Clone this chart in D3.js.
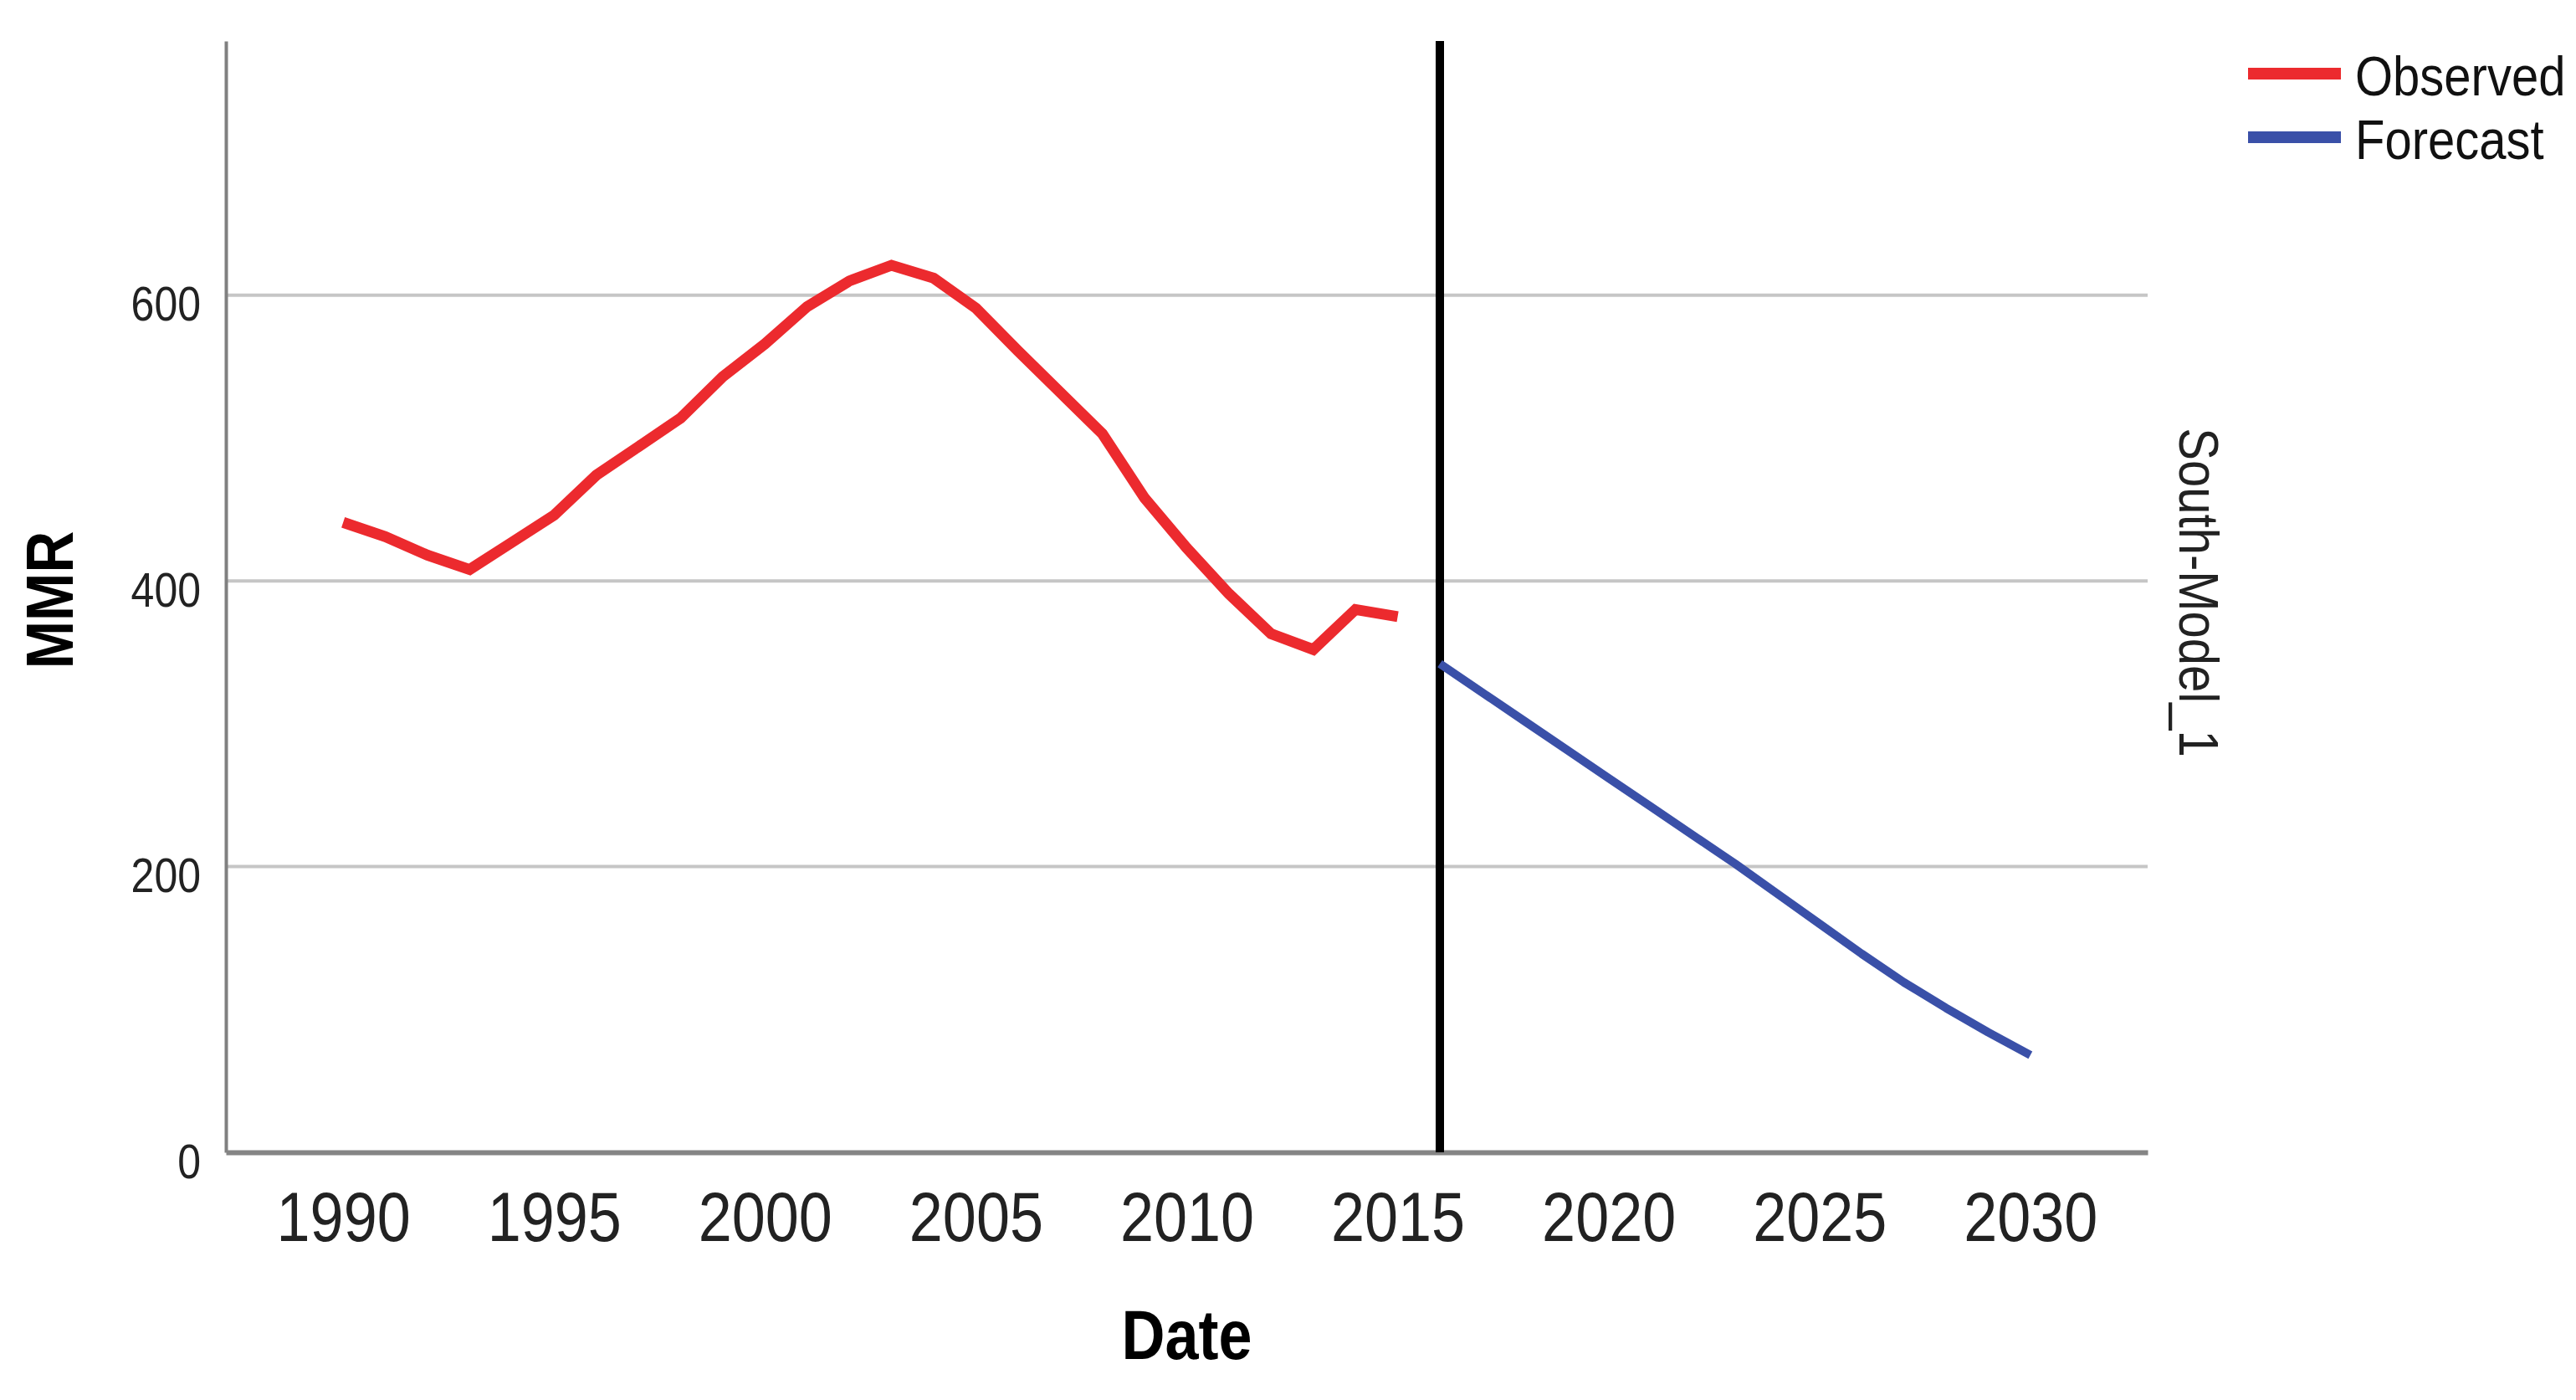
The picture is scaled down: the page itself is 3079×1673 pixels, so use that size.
<!DOCTYPE html>
<html>
<head>
<meta charset="utf-8">
<script src="https://cdn.jsdelivr.net/npm/d3@7"></script>
<style>
  html, body { margin: 0; padding: 0; background: #ffffff; }
  svg { display: block; font-family: "Liberation Sans", Arial, sans-serif; }
</style>
</head>
<body>
<svg id="chart" width="3079" height="1673"></svg>
<script>
// ---- Data ----
const observedYears = [1990,1991,1992,1993,1994,1995,1996,1997,1998,1999,2000,2001,2002,2003,2004,2005,2006,2007,2008,2009,2010,2011,2012,2013,2014,2015];
const observedMMR   = [441, 431, 418, 408, 427, 446, 474, 494, 514, 543, 566, 592, 610, 621, 612, 591, 561, 532, 503, 458, 423, 391, 363, 352, 380, 375];

const forecastYears = [2016,2017,2018,2019,2020,2021,2022,2023,2024,2025,2026,2027,2028,2029,2030];
const forecastMMR   = [342, 322, 302, 282, 262, 242, 222, 202, 181, 160, 139, 119, 101, 84, 68];

const xTickYears = [1990,1995,2000,2005,2010,2015,2020,2025,2030];
const yTickValues = [0,200,400,600];
const splitYear = 2016;

const seriesNames = ["Observed","Forecast"];
const seriesColors = ["#ec2a2e","#3a50a8"];
const panelLabel = "South-Model_1";
const xTitle = "Date";
const yTitle = "MMR";

// ---- Layout ----
const plotLeft = 270, plotRight = 2567, plotTop = 49, plotBottom = 1377;
const textStretch = 1.15;

const svg = d3.select("#chart");
svg.append("rect").attr("width",3079).attr("height",1673).attr("fill","#ffffff");

const x = d3.scaleLinear().domain([1987.22, 2032.78]).range([plotLeft, plotRight]);
const y = d3.scaleLinear().domain([0, 778]).range([plotBottom, plotTop]);

// gridlines
svg.append("g").selectAll("line")
  .data(yTickValues.filter(v => v > 0))
  .join("line")
  .attr("x1", plotLeft).attr("x2", plotRight)
  .attr("y1", d => y(d)).attr("y2", d => y(d))
  .attr("stroke", "#c6c6c6").attr("stroke-width", 4);

// y axis
const yAxis = svg.append("g")
  .attr("transform", `translate(${plotLeft},0)`)
  .call(d3.axisLeft(y).tickValues(yTickValues).tickSize(0).tickSizeOuter(0).tickFormat(d3.format("d")));
yAxis.select(".domain").attr("stroke", "#808080").attr("stroke-width", 4);
yAxis.selectAll(".tick text")
  .attr("x", null).attr("dy", null).attr("y", null)
  .attr("transform", `translate(-30,30) scale(1,${textStretch})`)
  .attr("text-anchor", "end")
  .attr("font-size", 50)
  .attr("font-family", "Liberation Sans, Arial, sans-serif")
  .attr("fill", "#222");

// x axis
const xAxis = svg.append("g")
  .attr("transform", `translate(0,${plotBottom})`)
  .call(d3.axisBottom(x).tickValues(xTickYears).tickSize(0).tickSizeOuter(0).tickFormat(d3.format("d")));
xAxis.select(".domain").attr("stroke", "#858585").attr("stroke-width", 6);
xAxis.selectAll(".tick text")
  .attr("y", null).attr("dy", null)
  .attr("transform", `translate(0,106) scale(1,${textStretch})`)
  .attr("text-anchor", "middle")
  .attr("font-size", 72)
  .attr("font-family", "Liberation Sans, Arial, sans-serif")
  .attr("fill", "#222");

// vertical split line
svg.append("line")
  .attr("x1", x(splitYear)).attr("x2", x(splitYear))
  .attr("y1", plotTop).attr("y2", plotBottom)
  .attr("stroke", "#000").attr("stroke-width", 10);

// data lines
const line = d3.line().x(d => x(d[0])).y(d => y(d[1]));
const observed = observedYears.map((yr, i) => [yr, observedMMR[i]]);
const forecast = forecastYears.map((yr, i) => [yr, forecastMMR[i]]);

svg.append("path").datum(observed)
  .attr("d", line).attr("fill", "none")
  .attr("stroke", seriesColors[0]).attr("stroke-width", 13)
  .attr("stroke-linejoin", "miter").attr("stroke-linecap", "butt");

svg.append("path").datum(forecast)
  .attr("d", line).attr("fill", "none")
  .attr("stroke", seriesColors[1]).attr("stroke-width", 10)
  .attr("stroke-linejoin", "round").attr("stroke-linecap", "butt");

// axis titles
svg.append("text")
  .attr("transform", `translate(${(plotLeft + plotRight) / 2},1624) scale(1,${textStretch})`)
  .attr("text-anchor", "middle")
  .attr("font-size", 72).attr("font-weight", "bold")
  .attr("fill", "#000")
  .text(xTitle);

svg.append("text")
  .attr("transform", `translate(87,717) rotate(-90) scale(1,${textStretch})`)
  .attr("text-anchor", "middle")
  .attr("font-size", 69).attr("font-weight", "bold")
  .attr("fill", "#000")
  .text(yTitle);

// panel label on right
svg.append("text")
  .attr("transform", `translate(2605,708) rotate(90) scale(1,${textStretch})`)
  .attr("text-anchor", "middle")
  .attr("font-size", 58)
  .attr("fill", "#222")
  .text(panelLabel);

// legend
const legend = svg.append("g");
const legendRows = [88, 164];
seriesNames.forEach((name, i) => {
  legend.append("line")
    .attr("x1", 2687).attr("x2", 2798)
    .attr("y1", legendRows[i]).attr("y2", legendRows[i])
    .attr("stroke", seriesColors[i]).attr("stroke-width", 14);
  legend.append("text")
    .attr("transform", `translate(2815,${legendRows[i] + 26}) scale(1,${textStretch})`)
    .attr("font-size", 58)
    .attr("fill", "#111")
    .text(name);
});
</script>
</body>
</html>
